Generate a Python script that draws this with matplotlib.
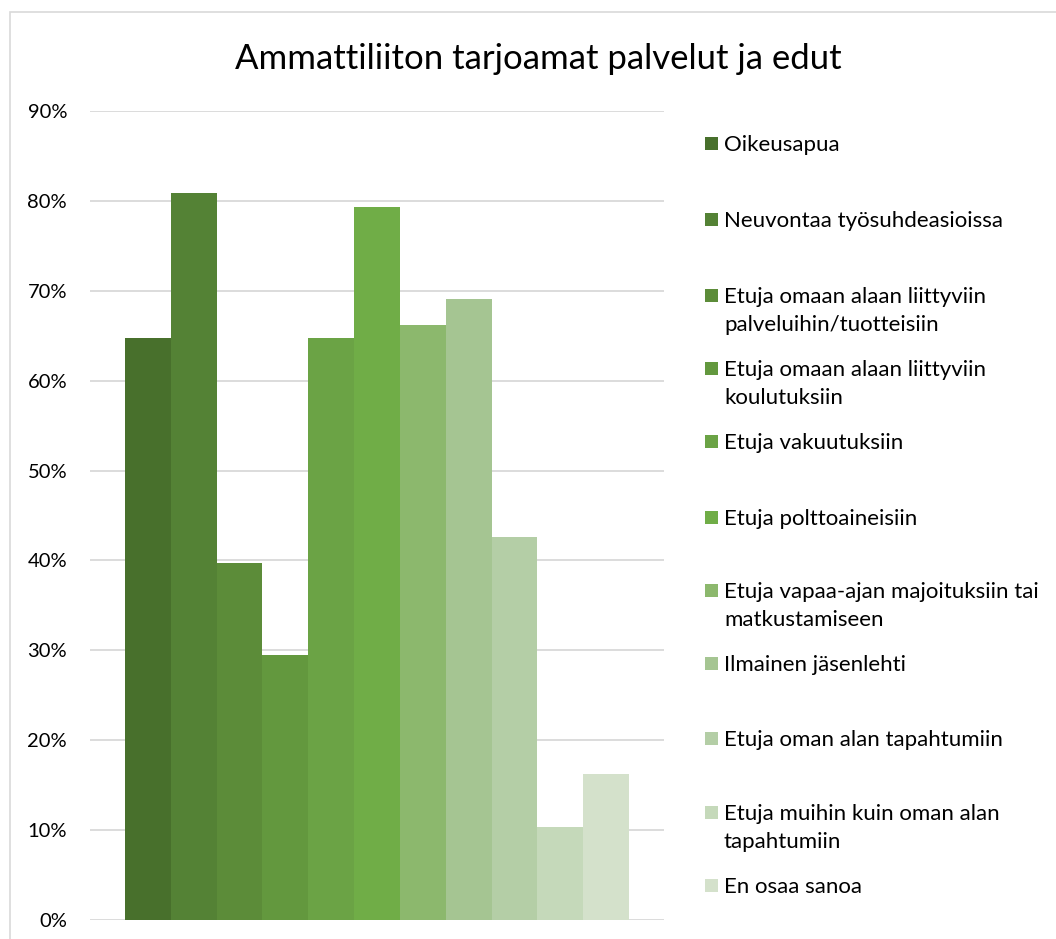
import matplotlib
matplotlib.use("Agg")
import matplotlib.pyplot as plt
from matplotlib.patches import Rectangle
import numpy as np

title = "Ammattiliiton tarjoamat palvelut ja edut"
categories = [
    "Oikeusapua",
    "Neuvontaa työsuhdeasioissa",
    "Etuja omaan alaan liittyviin\npalveluihin/tuotteisiin",
    "Etuja omaan alaan liittyviin\nkoulutuksiin",
    "Etuja vakuutuksiin",
    "Etuja polttoaineisiin",
    "Etuja vapaa-ajan majoituksiin tai\nmatkustamiseen",
    "Ilmainen jäsenlehti",
    "Etuja oman alan tapahtumiin",
    "Etuja muihin kuin oman alan\ntapahtumiin",
    "En osaa sanoa",
]
values = [64.7, 80.9, 39.7, 29.5, 64.7, 79.3, 66.2, 69.1, 42.6, 10.3, 16.2]
colors = ["#48702C", "#548235", "#5C8C39", "#63983E", "#6BA345", "#70AD47",
          "#8CB86D", "#A5C592", "#B4CEA6", "#C5D9BA", "#D4E1CB"]
yticks = [0, 10, 20, 30, 40, 50, 60, 70, 80, 90]
ytick_labels = [f"{t}%" for t in yticks]

W, H = 1056, 939
fig = plt.figure(figsize=(W / 100, H / 100), dpi=100)
plt.rcParams['font.family'] = ['Lato', 'DejaVu Sans']

# outer border
fig.patches.append(Rectangle((10 / W, -0.1), 1.2, 1 - 12 / H + 0.1, transform=fig.transFigure,
                             fill=False, edgecolor="#D9D9D9", linewidth=1.2))

ax = fig.add_axes([90 / W, 1 - 920 / H, (664 - 90) / W, (920 - 111) / H])
x = np.arange(len(values))
ax.bar(x, values, width=1.0, color=colors, zorder=2)
gap = 35 / 45.82
ax.set_xlim(-0.5 - gap, len(values) - 0.5 + gap)
ax.set_ylim(0, 90)
ax.set_yticks(yticks)
ax.set_yticklabels(ytick_labels, fontsize=14.5, color="#000000")
ax.tick_params(axis="y", length=0, pad=16.5)
ax.set_xticks([])
ax.grid(axis="y", color="#D9D9D9", linewidth=1.3, zorder=0)
for s in ax.spines.values():
    s.set_visible(False)

fig.text(538 / W, 1 - 59 / H, title, ha="center", va="center", fontsize=25, color="#000000")

# legend
line_y = [145, 221, 297, 370, 443, 519, 592, 665, 740, 814, 887]
for lab, c, yy in zip(categories, colors, line_y):
    fig.patches.append(Rectangle((705 / W, 1 - (yy + 5) / H), 13 / W, 13 / H,
                                 transform=fig.transFigure, facecolor=c, edgecolor="none"))
    for k, ln in enumerate(lab.split("\n")):
        fig.text(724 / W, 1 - (yy + 28 * k) / H, ln, ha="left", va="center",
                 fontsize=16, color="#000000")

fig.savefig("out.png", dpi=100, facecolor="white")
